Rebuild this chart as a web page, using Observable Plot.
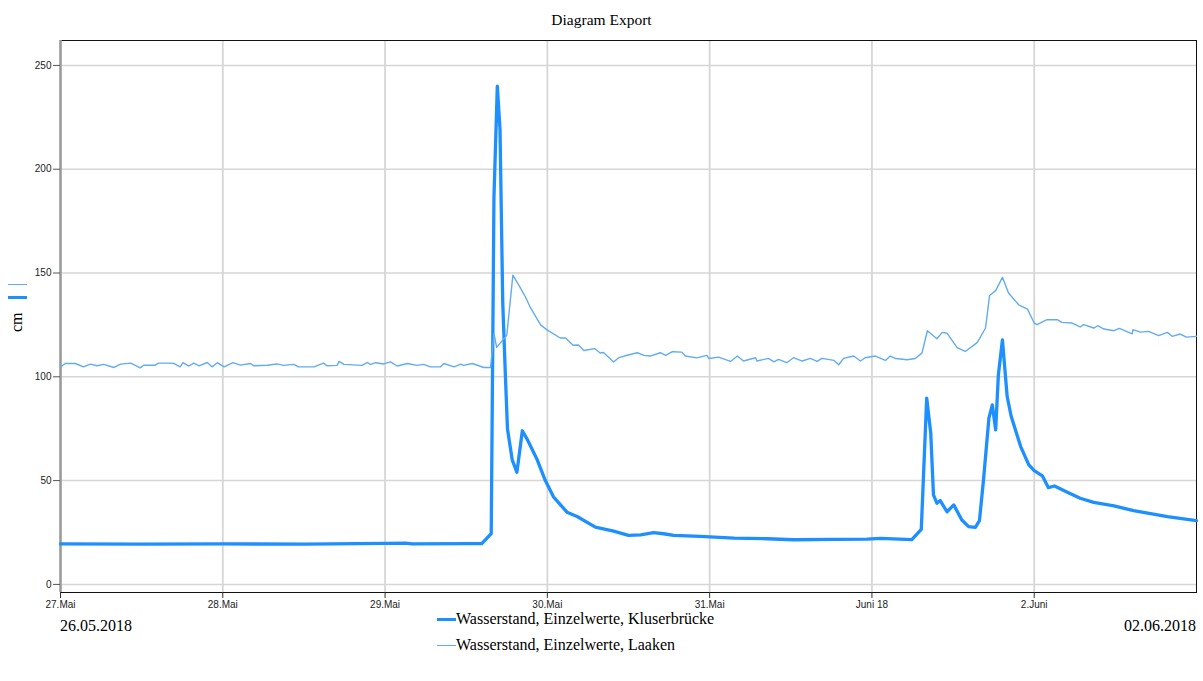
<!DOCTYPE html>
<html>
<head>
<meta charset="utf-8">
<script src="https://cdn.jsdelivr.net/npm/d3@7"></script>
<script src="https://cdn.jsdelivr.net/npm/@observablehq/plot@0.6"></script>
<style>
  html, body { margin: 0; padding: 0; background: #fff; }
  #wrap { position: relative; width: 1203px; height: 681px; overflow: hidden; }
  .serif { position: absolute; font-family: "Liberation Serif", "Times New Roman", serif; color: #000; white-space: nowrap; }
  .sw { position: absolute; height: 0; }
</style>
</head>
<body>
<div id="wrap">
  <div id="chart"></div>
  <div class="serif" style="left:0; width:1203px; top:11px; text-align:center; font-size:15.5px;">Diagram Export</div>
  <div class="sw" style="left:8px; width:19px; top:284px; border-top:1.4px solid #62acf0;"></div>
  <div class="sw" style="left:8px; width:19px; top:296px; border-top:3.5px solid #1e8fff;"></div>
  <div class="serif" style="left:6px; top:310px; font-size:16px; transform:rotate(-90deg); transform-origin:12px 10px;">cm</div>
  <div class="serif" style="left:60px; top:617px; font-size:16px;">26.05.2018</div>
  <div class="serif" style="right:7px; top:617px; font-size:16px;">02.06.2018</div>
  <div class="sw" style="left:437px; width:19px; top:618px; border-top:3.5px solid #1e8fff;"></div>
  <div class="serif" style="left:456px; top:610px; font-size:16px;">Wasserstand, Einzelwerte, Kluserbrücke</div>
  <div class="sw" style="left:437px; width:19px; top:645px; border-top:1.4px solid #62acf0;"></div>
  <div class="serif" style="left:456px; top:636px; font-size:16px;">Wasserstand, Einzelwerte, Laaken</div>
</div>
<script>
// hours after 27.05.2018 00:00 and water levels (cm)
const klusHours = [0, 12, 24, 36, 48, 51, 52, 60, 62.3, 63.7, 64.1, 64.6, 65, 65.4, 65.8, 66.1, 66.8, 67.5, 68.3, 69, 70.5, 71.7, 72.9, 74.9, 76.4, 79.1, 81.8, 84, 85.8, 87.7, 89.2, 90.7, 94.6, 99.6, 104.5, 108.4, 114.4, 119.3, 121.3, 125.9, 127.3, 128.1, 128.7, 129.1, 129.6, 130.1, 131.1, 132.1, 133.3, 134.3, 135.3, 135.9, 136.5, 137.3, 137.8, 138.3, 138.7, 139.3, 140, 140.6, 142, 143.2, 144, 145.2, 146.1, 147, 148.9, 150.8, 152.8, 155.8, 158.7, 163.7, 168];
const klusLevel = [19.5, 19.4, 19.5, 19.4, 19.8, 19.9, 19.5, 19.6, 19.6, 24.5, 186, 240, 219, 136, 100, 75, 60, 54, 74, 70, 60, 50, 42.2, 34.8, 32.7, 27.6, 25.7, 23.6, 23.9, 24.9, 24.4, 23.6, 23.1, 22.3, 22, 21.5, 21.7, 21.8, 22.2, 21.6, 26.5, 89.7, 72.8, 43.1, 39.1, 40.4, 35, 38.3, 31, 27.8, 27.5, 30.7, 50.3, 80.1, 86.5, 74.4, 101, 117.8, 90.5, 80.9, 66.4, 57.6, 54.8, 52.3, 46.6, 47.4, 44.4, 41.5, 39.5, 37.8, 35.5, 32.6, 30.7];

const laakenHours = [0, 0.7, 2.2, 3.4, 4.4, 5.4, 6.4, 7.9, 8.9, 10.4, 11.8, 12.3, 14, 14.5, 16, 16.8, 17.7, 18.1, 19, 19.7, 20.5, 21.7, 22.4, 23.2, 24.2, 25.5, 26.6, 28.1, 28.6, 30.6, 32, 33, 34.5, 35.2, 37.5, 38.9, 39.4, 40.9, 41.2, 41.9, 44.6, 45.4, 45.8, 46.6, 47.8, 48.8, 49.8, 51.3, 52.7, 53.7, 54.7, 56.2, 56.7, 58.2, 59.2, 59.6, 60.9, 62.6, 63.6, 64.1, 64.5, 66, 66.9, 67.8, 68.8, 69.5, 71, 72, 73.9, 74.7, 75.8, 76.6, 77.4, 79, 79.8, 80.3, 81.8, 82.5, 83.8, 85.3, 86.3, 87.2, 88.7, 89.5, 90.5, 91.9, 92.4, 94.1, 95.6, 95.9, 97.3, 99.1, 100.1, 101, 102.8, 103, 104.7, 105.5, 106.2, 107.4, 108.4, 109.7, 110.9, 111.9, 112.6, 114.4, 115.1, 115.8, 117.3, 118.3, 119, 120.5, 122, 122.7, 123.5, 125.2, 126.4, 127.4, 128.2, 129.6, 130.4, 131.1, 132.6, 133.8, 135.6, 136.8, 137.4, 138.3, 139.3, 140.2, 141.7, 143, 144, 144.4, 145.9, 147.4, 148.1, 149.6, 150.8, 151.3, 152.8, 153.4, 154.3, 155.8, 156.6, 158.5, 158.6, 159.7, 160.9, 162.4, 163.7, 164.4, 165.6, 166.5, 168];
const laakenLevel = [104.8, 106.4, 106.4, 104.8, 106.1, 105.3, 106, 104.5, 106.1, 106.6, 104.3, 105.6, 105.6, 106.6, 106.6, 106.4, 104.8, 106.8, 105.2, 106.6, 105.3, 106.9, 104.8, 106.8, 104.8, 106.8, 105.6, 106.4, 105.3, 105.6, 106.2, 105.5, 106, 104.8, 104.8, 106.6, 105.3, 105.5, 107.4, 106, 105.5, 106.9, 105.9, 106.8, 106.2, 107.2, 105.2, 106.4, 105.5, 106, 104.8, 104.8, 106.4, 104.8, 106.1, 105.5, 106.4, 104.5, 104.5, 120.9, 114.2, 120, 149, 144, 138.2, 133.3, 125, 122.5, 118.7, 118.7, 115.2, 115.3, 112.7, 113.6, 111.5, 111.7, 107.1, 109.1, 110.4, 111.6, 110.3, 110, 111.6, 110.3, 112.1, 111.9, 110, 109.1, 110.3, 108.8, 109.5, 107.4, 110, 107.6, 109.2, 107.6, 108.9, 107.2, 108.4, 106.8, 109.2, 107.6, 108.9, 107.4, 108.9, 107.9, 105.8, 108.9, 110, 107.6, 109.2, 110, 107.9, 110, 108.8, 108.2, 108.8, 111.4, 122.2, 118.3, 121.4, 121, 114.1, 112.2, 116.6, 123.5, 139.2, 141.5, 147.9, 140.4, 134.7, 132.6, 125.9, 125.1, 127.5, 127.5, 126.2, 125.9, 124, 125.1, 123.5, 124.6, 123, 122.2, 123.3, 120.7, 122.7, 121.5, 121.9, 119.8, 121.4, 119.5, 120.6, 119.1, 119.5];

const dayLabels = ["27.Mai", "28.Mai", "29.Mai", "30.Mai", "31.Mai", "Juni 18", "2.Juni"];
const yTicks = [0, 50, 100, 150, 200, 250];

const t0 = Date.UTC(2018, 4, 27);
const toDate = h => new Date(t0 + h * 3600e3);
const klus = klusHours.map((h, i) => ({t: toDate(h), v: klusLevel[i]}));
const laaken = laakenHours.map((h, i) => ({t: toDate(h), v: laakenLevel[i]}));
const dayTicks = dayLabels.map((_, i) => toDate(i * 24));
const labelOf = new Map(dayTicks.map((d, i) => [+d, dayLabels[i]]));

const chart = Plot.plot({
  width: 1203,
  height: 681,
  marginTop: 40,
  marginBottom: 89,
  marginLeft: 60,
  marginRight: 7,
  style: {fontFamily: "'Liberation Sans', Arial, sans-serif", fontSize: "10px", color: "#222", background: "#fff"},
  x: {type: "utc", domain: [toDate(0), toDate(168)]},
  y: {domain: [-3.9, 262]},
  marks: [
    Plot.gridY(yTicks, {stroke: "#d6d6d6", strokeOpacity: 1, strokeWidth: 1.5}),
    Plot.gridX(dayTicks, {stroke: "#d6d6d6", strokeOpacity: 1, strokeWidth: 1.8}),
    Plot.frame({stroke: "#111", strokeWidth: 1}),
    Plot.ruleX([toDate(0)], {stroke: "#9a9a9a", strokeWidth: 2.5}),
    Plot.axisY({ticks: yTicks, tickSize: 7, tickPadding: 2, stroke: "#555", fill: "#222", fontSize: 10, label: null}),
    Plot.axisX({ticks: dayTicks, tickFormat: d => labelOf.get(+d), tickSize: 6, tickPadding: 2, stroke: "#333", fill: "#222", fontSize: 10, label: null}),
    Plot.line(klus, {x: "t", y: "v", stroke: "#1e8fff", strokeWidth: 3.3, strokeLinejoin: "round"}),
    Plot.line(laaken, {x: "t", y: "v", stroke: "#62acf0", strokeWidth: 1.4, strokeLinejoin: "round"})
  ]
});
document.getElementById("chart").appendChild(chart);
</script>
</body>
</html>
